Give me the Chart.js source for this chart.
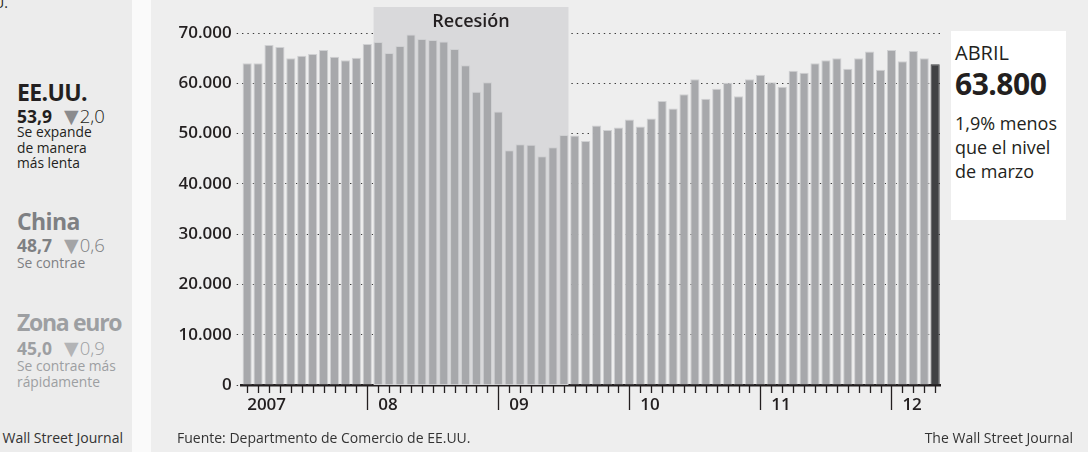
<!DOCTYPE html>
<html>
<head>
<meta charset="utf-8">
<script src="https://cdn.jsdelivr.net/npm/chart.js@4.4.0/dist/chart.umd.min.js"></script>
<style>
    body { margin: 0; }
    #wrap { position: relative; width: 1088px; height: 452px; background: #eeeeee; overflow: hidden; font-family: 'Open Sans', sans-serif; color: #231f20; }
    #side { position: absolute; left: 0; top: 0; width: 132px; height: 452px; background: #ececec; overflow: hidden; }
    #strip { position: absolute; left: 132px; top: 0; width: 19px; height: 452px; background: #fafafa; }
    #chart { position: absolute; left: 151px; top: 0; }
    .t { position: absolute; white-space: nowrap; line-height: 1; }
    .h { font-size: 23px; font-weight: 700; letter-spacing: -0.6px; }
    .v { font-size: 17.5px; }
    .v b { font-weight: 700; }
    .v .tri { margin-left: 12px; font-family: 'DejaVu Sans'; font-size: 19px; }
    .v .d { font-weight: 300; font-size: 18.5px; margin-left: 1px; }
    .s { font-size: 13.8px; line-height: 15.5px; }
    #box { position: absolute; left: 951px; top: 31px; width: 115px; height: 189px; background: #ffffff; }
</style>
</head>
<body>
<div id="wrap">
    <div id="side">
        <div class="t" style="right:124px;top:-4px;font-size:14px">EE.UU.</div>

        <div class="t h" style="left:17px;top:81px">EE.UU.</div>
        <div class="t v" style="left:17px;top:107px"><b>53,9</b><span class="tri" style="color:#8a8b8d">▼</span><span class="d">2,0</span></div>
        <div class="t s" style="left:17px;top:124px">Se expande<br>de manera<br>más lenta</div>

        <div class="t h" style="left:17px;top:210px;color:#7e8083">China</div>
        <div class="t v" style="left:17px;top:236px;color:#7e8083"><b>48,7</b><span class="tri" style="color:#a3a4a6">▼</span><span class="d">0,6</span></div>
        <div class="t s" style="left:17px;top:255px;color:#7e8083">Se contrae</div>

        <div class="t h" style="left:17px;top:311px;color:#9d9fa2;letter-spacing:-1.3px">Zona euro</div>
        <div class="t v" style="left:17px;top:339px;color:#9d9fa2"><b>45,0</b><span class="tri" style="color:#b3b4b6">▼</span><span class="d">0,9</span></div>
        <div class="t s" style="left:17px;top:358px;color:#9d9fa2">Se contrae más<br>rápidamente</div>

        <div class="t" style="right:9px;top:431px;font-size:14px;color:#333">The Wall Street Journal</div>
    </div>
    <div id="strip"></div>

    <div id="box"></div>
    <div class="t" style="left:955px;top:43px;font-size:20px;font-weight:500">ABRIL</div>
    <div class="t" style="left:955px;top:69px;font-size:30px;font-weight:700;letter-spacing:-0.5px">63.800</div>
    <div class="t" style="left:955px;top:111px;font-size:18px;line-height:24px">1,9% menos<br>que el nivel<br>de marzo</div>

    <canvas id="chart" width="937" height="452"></canvas>

    <div class="t" style="left:177px;top:431px;font-size:14px;color:#333">Fuente: Departmento de Comercio de EE.UU.</div>
    <div class="t" style="right:15px;top:431px;font-size:14px;color:#333">The Wall Street Journal</div>
</div>

<script>
// meses (ene 2007 - abr 2012)
const months = [
    'ene 2007', 'feb 2007', 'mar 2007', 'abr 2007', 'may 2007', 'jun 2007', 'jul 2007', 'ago 2007', 'sep 2007', 'oct 2007', 'nov 2007', 'dic 2007',
    'ene 2008', 'feb 2008', 'mar 2008', 'abr 2008', 'may 2008', 'jun 2008', 'jul 2008', 'ago 2008', 'sep 2008', 'oct 2008', 'nov 2008', 'dic 2008',
    'ene 2009', 'feb 2009', 'mar 2009', 'abr 2009', 'may 2009', 'jun 2009', 'jul 2009', 'ago 2009', 'sep 2009', 'oct 2009', 'nov 2009', 'dic 2009',
    'ene 2010', 'feb 2010', 'mar 2010', 'abr 2010', 'may 2010', 'jun 2010', 'jul 2010', 'ago 2010', 'sep 2010', 'oct 2010', 'nov 2010', 'dic 2010',
    'ene 2011', 'feb 2011', 'mar 2011', 'abr 2011', 'may 2011', 'jun 2011', 'jul 2011', 'ago 2011', 'sep 2011', 'oct 2011', 'nov 2011', 'dic 2011',
    'ene 2012', 'feb 2012', 'mar 2012', 'abr 2012'
];
// pedidos, unidades
const values = [
    64000, 64000, 67600, 67200, 65000, 65500, 65800, 66600, 65300, 64600, 65100, 67800,
    68200, 66000, 67400, 69700, 68800, 68600, 68300, 66800, 63600, 58300, 60200, 54400,
    46700, 47900, 47800, 45500, 47300, 49700, 49600, 48500, 51600, 50700, 51200, 52800,
    51400, 53000, 56500, 55000, 57800, 60800, 56900, 58900, 60100, 57400, 60800, 61700,
    60200, 59300, 62500, 62100, 64000, 64600, 65000, 62900, 65000, 66300, 62700, 66600,
    64400, 66400, 65000, 63800
];
const yearLabels = ['2007', '08', '09', '10', '11', '12'];
const yearStarts = ['ene 2007', 'ene 2008', 'ene 2009', 'ene 2010', 'ene 2011', 'ene 2012'];
const yearBreaks = ['dic 2007', 'dic 2008', 'dic 2009', 'dic 2010', 'dic 2011'];
const recession = ['ene 2008', 'jun 2009'];
const yTicks = [0, 10000, 20000, 30000, 40000, 50000, 60000, 70000];

const ink = '#231f20';

// zona sombreada de la recesión
const recessionPlugin = {
    id: 'recession',
    beforeDatasetsDraw(chart) {
        const {ctx, chartArea} = chart;
        const bars = chart.getDatasetMeta(0).data;
        const a = bars[months.indexOf(recession[0])];
        const b = bars[months.indexOf(recession[1])];
        const left = a.x - a.width / 2;
        const right = b.x + b.width / 2;
        ctx.save();
        ctx.fillStyle = '#d9d9db';
        ctx.fillRect(left, 7, right - left, chartArea.bottom - 7);
        ctx.fillStyle = ink;
        ctx.font = '600 18px "Open Sans"';
        ctx.textAlign = 'center';
        ctx.textBaseline = 'alphabetic';
        ctx.fillText('Recesión', (left + right) / 2, 26.5);
        ctx.restore();
    }
};

// marcas de meses y separadores de año
const tickPlugin = {
    id: 'monthTicks',
    afterDraw(chart) {
        const {ctx, chartArea, scales: {x}} = chart;
        ctx.save();
        ctx.strokeStyle = ink;
        ctx.lineWidth = 1.3;
        months.forEach((m, i) => {
            const px = Math.round(x.getPixelForValue(i)) + 0.5;
            const len = yearBreaks.includes(m) ? 25 : 8;
            ctx.beginPath();
            ctx.moveTo(px, chartArea.bottom);
            ctx.lineTo(px, chartArea.bottom + len);
            ctx.stroke();
        });
        ctx.restore();
    }
};

new Chart(document.getElementById('chart'), {
    type: 'bar',
    data: {
        labels: months,
        datasets: [{
            data: values,
            backgroundColor: c => c.dataIndex === values.length - 1 ? '#414244' : '#a7a8ab',
            borderColor: c => c.dataIndex === values.length - 1 ? '#414244' : '#cfd0d2',
            borderWidth: 1,
            barPercentage: 0.84,
            categoryPercentage: 1
        }]
    },
    options: {
        responsive: false,
        animation: false,
        devicePixelRatio: 1,
        layout: { padding: { left: 0, right: 147.4, top: 33, bottom: 0 } },
        plugins: { legend: { display: false }, tooltip: { enabled: false } },
        scales: {
            x: {
                z: 1,
                grid: { display: false, drawTicks: false },
                border: { display: true, color: ink, width: 2.5 },
                ticks: {
                    autoSkip: false,
                    maxRotation: 0,
                    align: 'start',
                    padding: 10,
                    color: ink,
                    font: { family: "'Open Sans'", size: 17, weight: 600 },
                    callback: (v, i) => {
                        const k = yearStarts.indexOf(months[i]);
                        return k >= 0 ? yearLabels[k] : '';
                    }
                },
                afterFit: scale => { scale.height = 67; }
            },
            y: {
                z: 1,
                min: yTicks[0],
                max: yTicks[yTicks.length - 1],
                afterBuildTicks: scale => { scale.ticks = yTicks.map(v => ({value: v})); },
                border: { display: false, dash: [1.4, 4] },
                grid: {
                    color: '#3a3a3a',
                    lineWidth: 1,
                    tickLength: 5,
                    tickColor: '#3a3a3a',
                    tickBorderDash: [1.4, 4]
                },
                ticks: {
                    padding: 5,
                    color: ink,
                    font: { family: "'Open Sans'", size: 17, weight: 600 },
                    callback: v => v.toLocaleString('de-DE')
                },
                afterFit: scale => { scale.width = 90.7; }
            }
        }
    },
    plugins: [recessionPlugin, tickPlugin]
});
</script>
</body>
</html>
